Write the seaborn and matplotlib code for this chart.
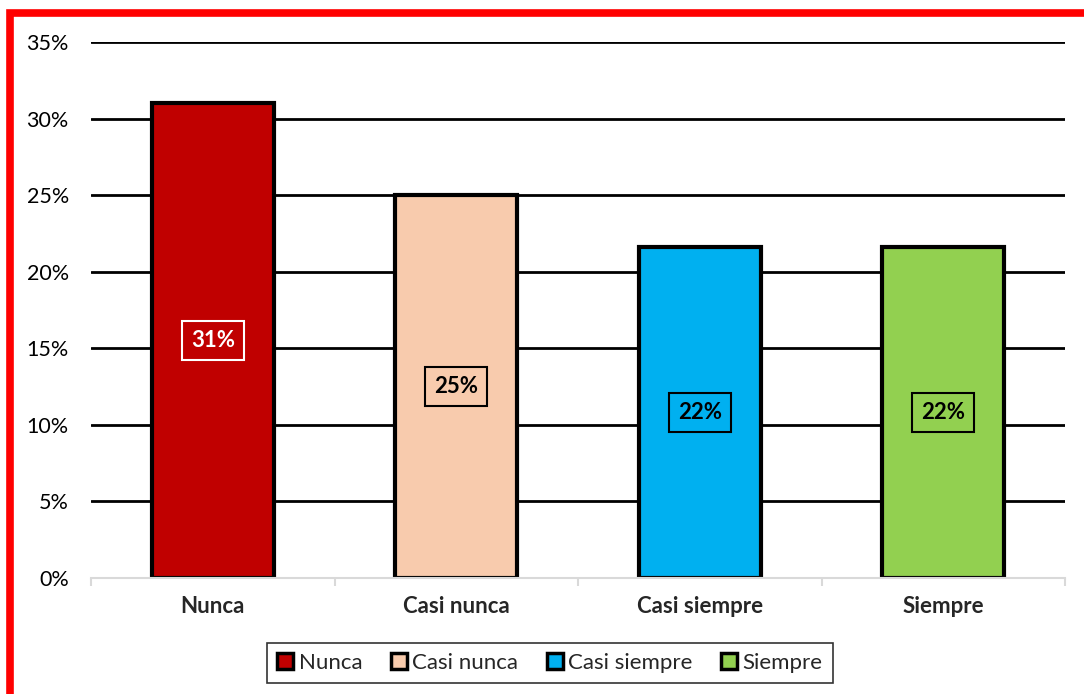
import matplotlib
matplotlib.use("Agg")
import matplotlib.pyplot as plt
import matplotlib.patches as mpatches
from matplotlib.ticker import FuncFormatter, MultipleLocator, FixedLocator
import seaborn as sns
import pandas as pd

categories = ["Nunca", "Casi nunca", "Casi siempre", "Siempre"]
values = [0.31, 0.25, 0.216, 0.216]
labels = ["31%", "25%", "22%", "22%"]
colors = ["#C00000", "#F8CBAD", "#00B0F0", "#92D050"]
label_colors = ["white", "black", "black", "black"]

sns.set_theme(style="white")
plt.rcParams["font.family"] = ["Lato", "DejaVu Sans"]

df = pd.DataFrame({"categoria": categories, "valor": values})

fig = plt.figure(figsize=(10.84, 6.94), dpi=100)
ax = fig.add_axes([91 / 1084, 1 - 578 / 694, (1065 - 91) / 1084, (578 - 42) / 694])

sns.barplot(data=df, x="categoria", y="valor", hue="categoria",
            palette=colors, order=categories, hue_order=categories,
            saturation=1, width=0.5, edgecolor="black", linewidth=3, legend=False,
            ax=ax, zorder=3)

ax.set_ylim(0, 0.35)
ax.set_xlim(-0.5, len(categories) - 0.5)
ax.yaxis.set_major_locator(MultipleLocator(0.05))
ax.yaxis.set_major_formatter(FuncFormatter(lambda v, p: f"{v * 100:.0f}%"))
ax.set_xlabel("")
ax.set_ylabel("")

# horizontal gridlines
ax.grid(axis="y", color="black", linewidth=2)
ax.grid(axis="x", visible=False)
ax.set_axisbelow(True)

for side in ["left", "right", "top"]:
    ax.spines[side].set_visible(False)
ax.spines["bottom"].set_color("#d9d9d9")
ax.spines["bottom"].set_linewidth(1.5)
ax.spines["bottom"].set_zorder(4)

ax.tick_params(axis="y", length=0, labelsize=15.5, pad=16, colors="black")
ax.tick_params(axis="x", which="major", length=0, labelsize=16, pad=13)
for t in ax.get_xticklabels():
    t.set_fontweight("bold")
ax.xaxis.set_minor_locator(FixedLocator([i - 0.5 for i in range(len(categories) + 1)]))
ax.tick_params(axis="x", which="minor", bottom=True, length=6, width=1.5, color="#d9d9d9")

# value labels in the middle of each bar
for i, (v, lab, tc, bc) in enumerate(zip(values, labels, label_colors, colors)):
    ax.text(i, v / 2, lab, ha="center", va="center", fontsize=16, fontweight="bold",
            color=tc, zorder=5,
            bbox=dict(boxstyle="square,pad=0.4", facecolor=bc, edgecolor=tc, linewidth=1.5))

handles = [mpatches.Patch(facecolor=c, edgecolor="black", linewidth=2.5, label=n)
           for c, n in zip(colors, categories)]
leg = fig.legend(handles=handles, loc="center", bbox_to_anchor=(550 / 1084, 1 - 663 / 694),
                 ncol=4, frameon=True, fontsize=16, handlelength=0.7, handleheight=0.7,
                 handletextpad=0.25, columnspacing=1.3, borderpad=0.45, fancybox=False)
leg.get_frame().set_edgecolor("black")
leg.get_frame().set_linewidth(1.2)

# red frame around the figure
fig.patches.append(mpatches.Rectangle((10 / 1084, -0.1), 1.2, 1 - 13 / 694 + 0.1,
                                      transform=fig.transFigure, fill=False,
                                      edgecolor="#FF0000", linewidth=5.5, zorder=10))

fig.savefig("out.png", dpi=100, facecolor="white")
